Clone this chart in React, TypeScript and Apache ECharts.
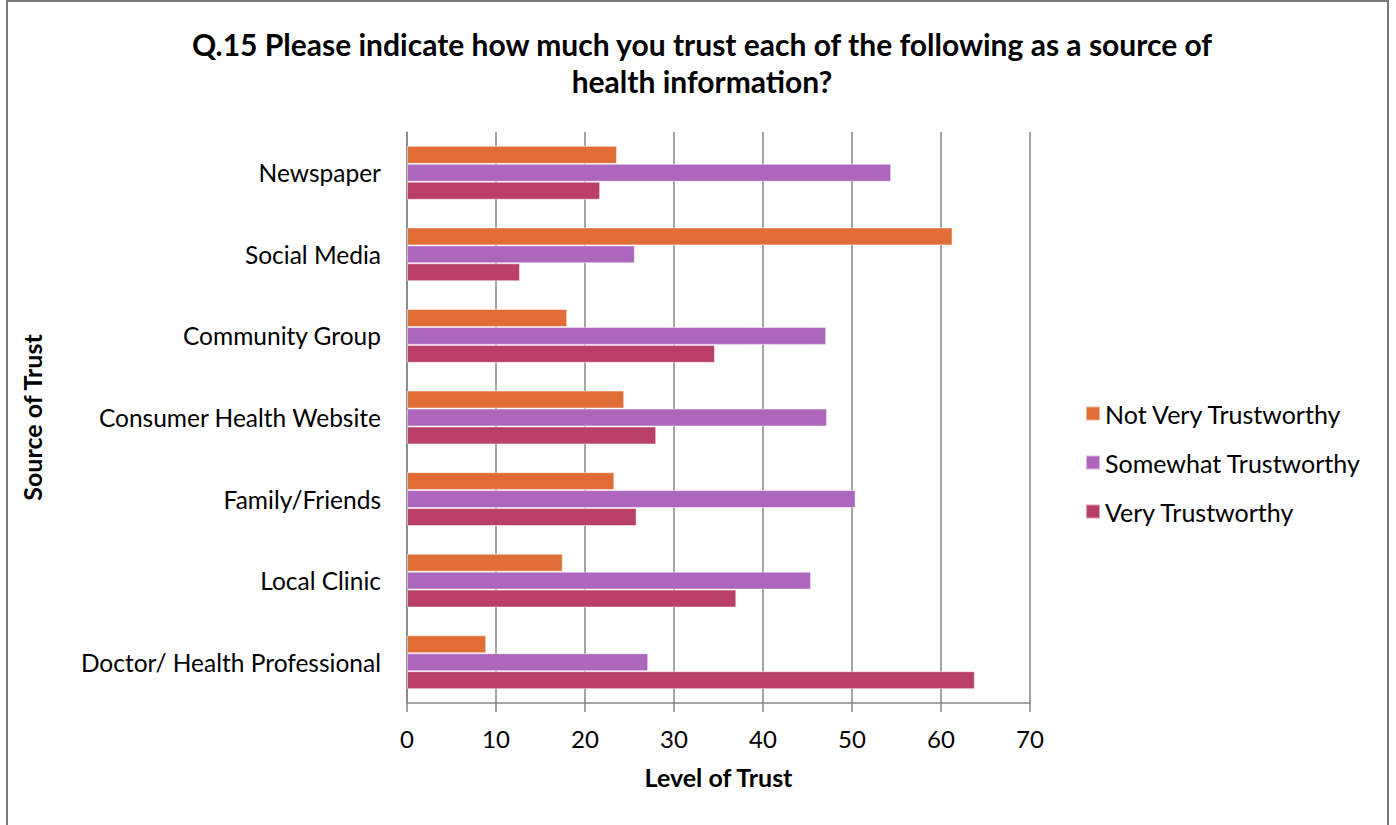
import React, { useEffect, useRef } from "react";
import * as echarts from "echarts";

const categories = [
  "Newspaper",
  "Social Media",
  "Community Group",
  "Consumer Health Website",
  "Family/Friends",
  "Local Clinic",
  "Doctor/ Health Professional",
];
const notVery = [23.6, 61.3, 18.0, 24.4, 23.3, 17.5, 8.9];
const somewhat = [54.4, 25.6, 47.1, 47.2, 50.4, 45.4, 27.1];
const very = [21.7, 12.7, 34.6, 28.0, 25.8, 37.0, 63.8];
const seriesNames = ["Not Very Trustworthy", "Somewhat Trustworthy", "Very Trustworthy"];
const colors = ["#E06D35", "#AC67BD", "#BA3F68"];
const titleLines = [
  "Q.15 Please indicate how much you trust each of the following as a source of",
  "health information?",
];

export default function App() {
  const ref = useRef<HTMLDivElement>(null);
  useEffect(() => {
    if (!ref.current) return;
    const chart = echarts.init(ref.current, null, { renderer: "svg" });
    const font = "Lato, 'Open Sans', sans-serif";
    const data = [notVery, somewhat, very];
    chart.setOption({
      animation: false,
      textStyle: { fontFamily: font },
      title: {
        text: titleLines.join("\n"),
        left: 697,
        textAlign: "center",
        top: 20,
        textStyle: { fontSize: 30, fontWeight: "bold", color: "#000", lineHeight: 37, fontFamily: font },
      },
      graphic: [
        {
          type: "rect",
          shape: { x: 7, y: 1, width: 1381, height: 840 },
          style: { fill: "none", stroke: "#777", lineWidth: 2 },
          silent: true,
        },
      ],
      legend: {
        orient: "vertical",
        left: 1080,
        top: 396,
        itemWidth: 14,
        itemHeight: 14,
        itemGap: 24,
        icon: "rect",
        textStyle: { fontSize: 25, color: "#000", fontFamily: font, lineHeight: 25 },
        data: seriesNames,
      },
      grid: { left: 407, right: 366, top: 132, bottom: 122, containLabel: false },
      xAxis: {
        type: "value",
        min: 0,
        max: 70,
        interval: 10,
        name: "Level of Trust",
        nameLocation: "middle",
        nameGap: 61,
        nameTextStyle: { fontSize: 25, fontWeight: "bold", color: "#000", fontFamily: font },
        axisLine: { show: true, lineStyle: { color: "#868686", width: 1.5 } },
        axisTick: { show: true, length: 9, lineStyle: { color: "#868686", width: 1.5 } },
        axisLabel: { fontSize: 24, color: "#000", margin: 23, fontFamily: font },
        splitLine: { show: true, lineStyle: { color: "#868686", width: 1.5 } },
      },
      yAxis: {
        type: "category",
        inverse: true,
        data: categories,
        name: "Source of Trust",
        nameLocation: "middle",
        nameGap: 363,
        nameRotate: 90,
        nameTextStyle: { fontSize: 25, fontWeight: "bold", color: "#000", fontFamily: font },
        axisLine: { show: true, lineStyle: { color: "#868686", width: 1.5 } },
        axisTick: { show: false },
        axisLabel: { fontSize: 24.5, color: "#000", margin: 26, fontFamily: font },
      },
      series: seriesNames.map((n, i) => ({
        type: "bar",
        name: n,
        data: data[i],
        barGap: "0%",
        barCategoryGap: "34%",
        itemStyle: { color: colors[i], borderColor: "rgba(255,255,255,0.5)", borderWidth: 1 },
      })),
    });
    return () => chart.dispose();
  }, []);
  return (
    <div
      ref={ref}
      style={{ position: "fixed", left: 0, top: 0, width: 1396, height: 825, background: "#fff" }}
    />
  );
}
